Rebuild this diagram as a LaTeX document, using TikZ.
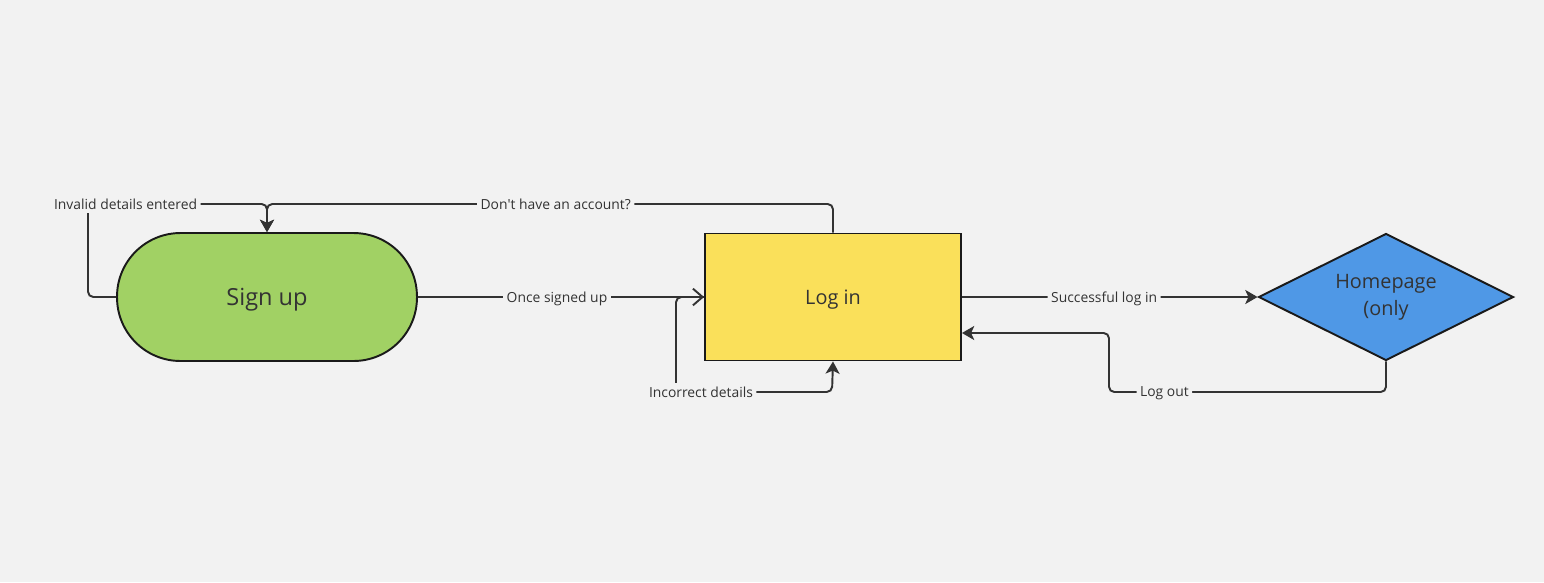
\documentclass[tikz,border=0pt]{standalone}
\usepackage{fontspec}
\setmainfont{Open Sans}
\usepackage{tikz}
\usetikzlibrary{arrows.meta, shapes.geometric}
\definecolor{paper}{RGB}{242, 242, 242}
\definecolor{signgreen}{RGB}{161, 209, 100}
\definecolor{loginyellow}{RGB}{250, 224, 90}
\definecolor{homeblue}{RGB}{79, 152, 230}
\definecolor{ink}{RGB}{51, 51, 51}
\definecolor{rim}{RGB}{26, 26, 26}

\begin{document}
\begin{tikzpicture}[x=0.02cm, y=-0.02cm,
   box/.style={draw=rim, line width=1.1pt, text=ink, inner sep=0pt},
   lbl/.style={fill=paper, text=ink, inner sep=2pt, text depth=0pt, font=\fontsize{7.9}{9}\selectfont},
   conn/.style={draw=ink, line width=1.1pt, rounded corners=3pt},
   tip/.style={-{Stealth[length=7pt, width=8pt, inset=1.8pt]}},
   opentip/.style={-{Straight Barb[length=5.5pt, width=9.5pt]}}]
   \fill[paper] (0,0) rectangle (1544,582);

   \draw[]
    (267,297) node[box, fill=signgreen, minimum width=6cm, minimum height=2.56cm, rounded corners=1.27cm, text depth=0pt, font=\fontsize{13.4}{16}\selectfont](1) {Sign up}
    (833,297) node[box, fill=loginyellow, minimum width=5.12cm, minimum height=2.54cm, text depth=0pt, font=\fontsize{11.3}{14}\selectfont](2) {Log in}
    (1386,297) node[box, diamond, aspect=2, fill=homeblue, minimum width=5.1cm, minimum height=2.54cm, align=center, font=\fontsize{11.3}{15.4}\selectfont](3) {Homepage\\(only};

   \coordinate (top) at (267,204);
   \coordinate (back) at (1109,333);

   \draw[conn, opentip] (1) -- node[lbl, pos=0.486] {Once signed up} (2);
   \draw[conn, tip] (2) -- node[lbl, pos=0.481] {Successful log in} (3);

   %loops back
   \draw[conn, tip] (1.west) -| (88,204) -- node[lbl, pos=0.21] {Invalid details entered} (top) -- (1.north);
   \draw[conn, tip] (2.north) |- node[lbl, pos=0.745] {Don\textquotesingle t have an account?} (top) -- (1.north);
   \draw[conn, tip] (2.west) -- (676,297) -- (676,392) -- node[lbl, pos=0.16] {Incorrect details} (832,392) -- (2.south);
   \draw[conn, tip] (3.south) -- (1386,392) -- node[lbl, pos=0.8] {Log out} (1109,392) -- (back) -- (2.east |- back);
\end{tikzpicture}
\end{document}
